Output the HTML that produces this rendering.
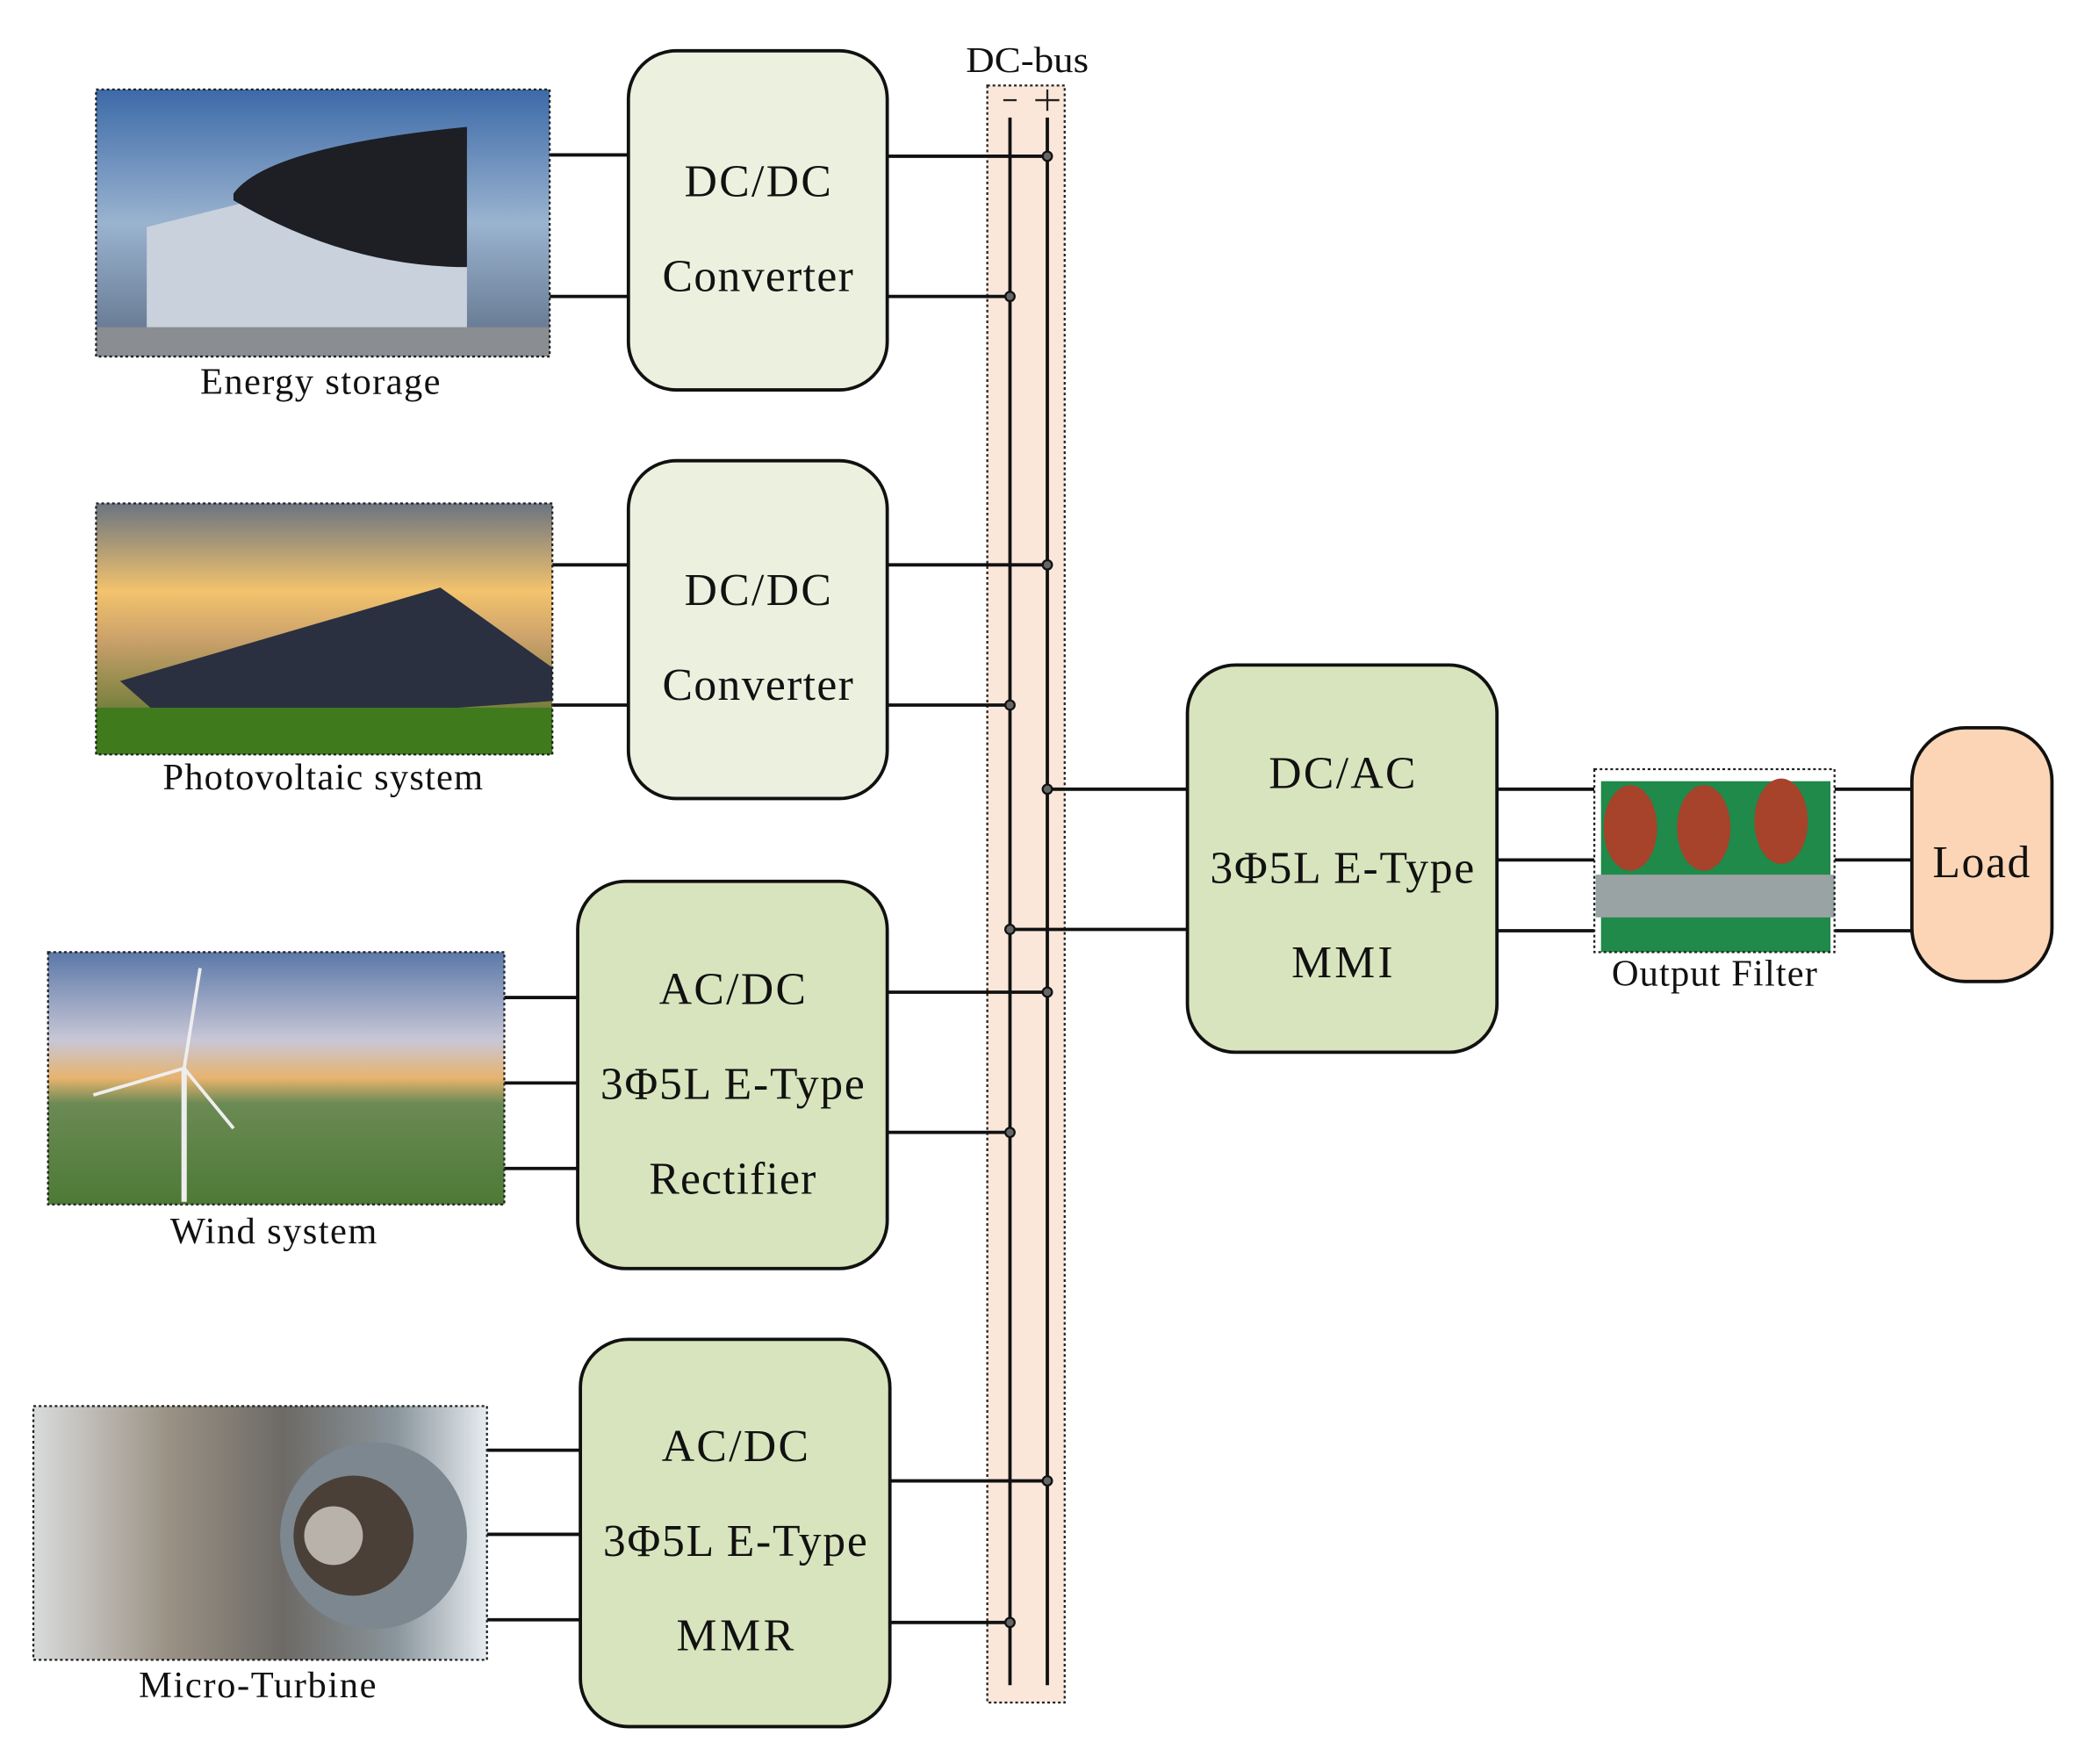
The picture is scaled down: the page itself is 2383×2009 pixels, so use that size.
<!DOCTYPE html>
<html><head><meta charset="utf-8"><style>
html,body{margin:0;padding:0;background:#fff;}
svg{display:block;}
text{font-family:"Liberation Serif",serif;fill:#111;}
</style></head><body>
<svg width="2383" height="2009" viewBox="0 0 1568 1321" preserveAspectRatio="none" xmlns="http://www.w3.org/2000/svg">
<defs>
<linearGradient id="sky1" x1="0" y1="0" x2="0" y2="1"><stop offset="0" stop-color="#3c6aa8"/><stop offset="0.5" stop-color="#9ab3cf"/><stop offset="1" stop-color="#5d6e86"/></linearGradient>
<linearGradient id="sky2" x1="0" y1="0" x2="0" y2="1"><stop offset="0" stop-color="#6b7480"/><stop offset="0.35" stop-color="#f3c36d"/><stop offset="0.55" stop-color="#c9a06a"/><stop offset="1" stop-color="#3e6a1e"/></linearGradient>
<linearGradient id="sky3" x1="0" y1="0" x2="0" y2="1"><stop offset="0" stop-color="#5b78a8"/><stop offset="0.35" stop-color="#c8c7d6"/><stop offset="0.5" stop-color="#e7b36e"/><stop offset="0.6" stop-color="#6b8a54"/><stop offset="1" stop-color="#4d7a35"/></linearGradient>
<linearGradient id="turb" x1="0" y1="0" x2="1" y2="0"><stop offset="0" stop-color="#d9dbdc"/><stop offset="0.3" stop-color="#9a9184"/><stop offset="0.55" stop-color="#6d6a66"/><stop offset="0.8" stop-color="#8a959c"/><stop offset="1" stop-color="#e6ecf0"/></linearGradient>
</defs>

<rect x="740" y="64" width="58" height="1211" fill="#fbe7d9" stroke="#222" stroke-width="1.5" stroke-dasharray="2,2"/>
<text x="770" y="54" font-size="27" text-anchor="middle" textLength="92" lengthAdjust="spacingAndGlyphs">DC-bus</text>
<line x1="752" y1="75" x2="762" y2="75" stroke="#222" stroke-width="1.5"/>
<line x1="776" y1="75" x2="794" y2="75" stroke="#222" stroke-width="1.5"/>
<line x1="785" y1="67" x2="785" y2="83" stroke="#222" stroke-width="1.5"/>
<line x1="757" y1="88" x2="757" y2="1262" stroke="#111" stroke-width="2.5"/>
<line x1="785" y1="88" x2="785" y2="1262" stroke="#111" stroke-width="2.5"/>

<g stroke="#111" stroke-width="2.5" fill="none">
<line x1="412" y1="116" x2="471" y2="116"/><line x1="412" y1="222" x2="471" y2="222"/>
<line x1="665" y1="117" x2="785" y2="117"/><line x1="665" y1="222" x2="757" y2="222"/>
<line x1="414" y1="423" x2="471" y2="423"/><line x1="414" y1="528" x2="471" y2="528"/>
<line x1="665" y1="423" x2="785" y2="423"/><line x1="665" y1="528" x2="757" y2="528"/>
<line x1="378" y1="747" x2="433" y2="747"/><line x1="378" y1="811" x2="433" y2="811"/><line x1="378" y1="875" x2="433" y2="875"/>
<line x1="665" y1="743" x2="785" y2="743"/><line x1="665" y1="848" x2="757" y2="848"/>
<line x1="365" y1="1086" x2="435" y2="1086"/><line x1="365" y1="1149" x2="435" y2="1149"/><line x1="365" y1="1213" x2="435" y2="1213"/>
<line x1="667" y1="1109" x2="785" y2="1109"/><line x1="667" y1="1215" x2="757" y2="1215"/>
<line x1="785" y1="591" x2="890" y2="591"/><line x1="757" y1="696" x2="890" y2="696"/>
<line x1="1122" y1="591" x2="1195" y2="591"/><line x1="1122" y1="644" x2="1195" y2="644"/><line x1="1122" y1="697" x2="1195" y2="697"/>
<line x1="1375" y1="591" x2="1433" y2="591"/><line x1="1375" y1="644" x2="1433" y2="644"/><line x1="1375" y1="697" x2="1433" y2="697"/>
</g>
<g fill="#666" stroke="#111" stroke-width="1.5">
<circle cx="785" cy="117" r="3.5"/><circle cx="757" cy="222" r="3.5"/>
<circle cx="785" cy="423" r="3.5"/><circle cx="757" cy="528" r="3.5"/>
<circle cx="785" cy="591" r="3.5"/><circle cx="757" cy="696" r="3.5"/>
<circle cx="785" cy="743" r="3.5"/><circle cx="757" cy="848" r="3.5"/>
<circle cx="785" cy="1109" r="3.5"/><circle cx="757" cy="1215" r="3.5"/>
</g>

<g stroke="#111" stroke-width="2.5">
<rect x="471" y="38" width="194" height="254" rx="36" fill="#ebf1de"/>
<rect x="471" y="345" width="194" height="253" rx="36" fill="#ebf1de"/>
<rect x="433" y="660" width="232" height="290" rx="36" fill="#d8e4bd"/>
<rect x="435" y="1003" width="232" height="290" rx="36" fill="#d8e4bd"/>
<rect x="890" y="498" width="232" height="290" rx="36" fill="#d8e4bd"/>
<rect x="1433" y="545" width="105" height="190" rx="40" fill="#fbd5b5"/>
</g>
<g font-size="34" text-anchor="middle" lengthAdjust="spacingAndGlyphs">
<text x="568" y="147" textLength="110">DC/DC</text><text x="568" y="218" textLength="143">Converter</text>
<text x="568" y="453" textLength="110">DC/DC</text><text x="568" y="524" textLength="143">Converter</text>
<text x="549" y="752" textLength="110">AC/DC</text><text x="549" y="823" textLength="198">3Φ5L E-Type</text><text x="549" y="894" textLength="125">Rectifier</text>
<text x="551" y="1094" textLength="110">AC/DC</text><text x="551" y="1165" textLength="198">3Φ5L E-Type</text><text x="551" y="1236" textLength="88">MMR</text>
<text x="1006" y="590" textLength="110">DC/AC</text><text x="1006" y="661" textLength="198">3Φ5L E-Type</text><text x="1006" y="732" textLength="76">MMI</text>
<text x="1485" y="657" textLength="73">Load</text>
</g>

<rect x="72" y="67" width="340" height="200" fill="url(#sky1)"/>
<path d="M110 170 L350 110 L350 250 L110 255 Z" fill="#c9d1dc"/>
<path d="M175 145 Q200 110 350 95 L350 200 Q260 200 175 150Z" fill="#1d1f24"/>
<rect x="72" y="245" width="340" height="22" fill="#8a8d92"/>
<rect x="72" y="67" width="340" height="200" fill="none" stroke="#222" stroke-width="1.5" stroke-dasharray="2,2"/>
<g font-size="28" text-anchor="middle" lengthAdjust="spacingAndGlyphs">
<text x="240" y="295" textLength="180">Energy storage</text>
<text x="242" y="591" textLength="240">Photovoltaic system</text>
<text x="205" y="931" textLength="155">Wind system</text>
<text x="193" y="1271" textLength="178">Micro-Turbine</text>
<text x="1285" y="738" textLength="154">Output Filter</text>
</g>

<rect x="72" y="377" width="342" height="188" fill="url(#sky2)"/>
<path d="M90 510 L330 440 L414 500 L414 525 L130 545 Z" fill="#2a3040"/>
<rect x="72" y="530" width="342" height="35" fill="#3f7a1c"/>
<rect x="72" y="377" width="342" height="188" fill="none" stroke="#222" stroke-width="1.5" stroke-dasharray="2,2"/>

<rect x="36" y="713" width="342" height="189" fill="url(#sky3)"/>
<line x1="138" y1="800" x2="138" y2="900" stroke="#eee" stroke-width="4"/>
<line x1="138" y1="800" x2="150" y2="725" stroke="#eee" stroke-width="2.5"/>
<line x1="138" y1="800" x2="70" y2="820" stroke="#eee" stroke-width="2.5"/>
<line x1="138" y1="800" x2="175" y2="845" stroke="#eee" stroke-width="2.5"/>
<rect x="36" y="713" width="342" height="189" fill="none" stroke="#222" stroke-width="1.5" stroke-dasharray="2,2"/>

<rect x="25" y="1053" width="340" height="190" fill="url(#turb)"/>
<circle cx="280" cy="1150" r="70" fill="#7d8790"/>
<circle cx="265" cy="1150" r="45" fill="#4a4038"/>
<circle cx="250" cy="1150" r="22" fill="#b8b2aa"/>
<rect x="25" y="1053" width="340" height="190" fill="none" stroke="#222" stroke-width="1.5" stroke-dasharray="2,2"/>

<rect x="1195" y="576" width="180" height="137" fill="#fff"/>
<rect x="1200" y="585" width="172" height="128" fill="#1f8a4a"/>
<ellipse cx="1222" cy="620" rx="20" ry="32" fill="#a7422b"/>
<ellipse cx="1277" cy="620" rx="20" ry="32" fill="#a7422b"/>
<ellipse cx="1335" cy="615" rx="20" ry="32" fill="#a7422b"/>
<rect x="1196" y="655" width="179" height="32" fill="#9aa3a3"/>
<rect x="1195" y="576" width="180" height="137" fill="none" stroke="#222" stroke-width="1.5" stroke-dasharray="2,2"/>
</svg>
</body></html>
